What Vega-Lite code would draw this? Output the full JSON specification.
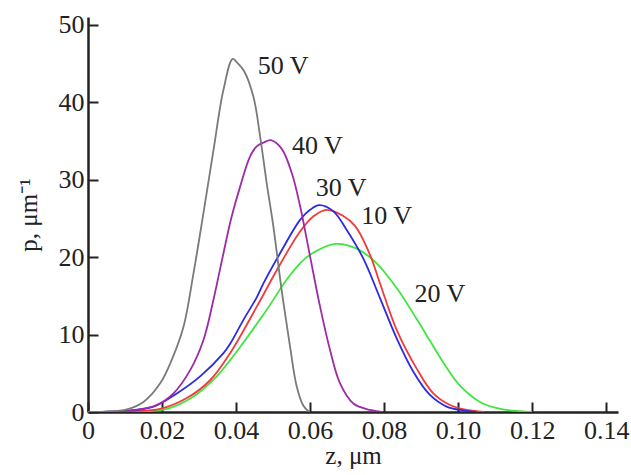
{
  "$schema": "https://vega.github.io/schema/vega-lite/v6.json",
  "width": 530,
  "height": 395,
  "autosize": {"type": "none"},
  "padding": {"left": 88, "top": 17, "right": 13, "bottom": 63},
  "background": "white",
  "config": {
    "view": {"stroke": null},
    "font": "Liberation Serif",
    "axis": {
      "labelFont": "Liberation Serif",
      "titleFont": "Liberation Serif",
      "labelFontSize": 26,
      "titleFontSize": 25,
      "labelColor": "#222",
      "titleColor": "#222",
      "titleFontWeight": "normal",
      "domainColor": "#222",
      "domainWidth": 2.5,
      "tickColor": "#222",
      "tickWidth": 2,
      "tickSize": -10,
      "grid": false
    }
  },
  "datasets": {
    "curves": [
      {"s": "20 V", "z": 0, "p": 0}, {"s": "20 V", "z": 0.012, "p": 0.05}, {"s": "20 V", "z": 0.0213, "p": 0.4}, {"s": "20 V", "z": 0.0285, "p": 2.0}, {"s": "20 V", "z": 0.0348, "p": 4.6}, {"s": "20 V", "z": 0.0384, "p": 6.7}, {"s": "20 V", "z": 0.0411, "p": 8.4}, {"s": "20 V", "z": 0.0483, "p": 13.2}, {"s": "20 V", "z": 0.0537, "p": 17.1}, {"s": "20 V", "z": 0.0573, "p": 19.2}, {"s": "20 V", "z": 0.06, "p": 20.3}, {"s": "20 V", "z": 0.0668, "p": 21.7}, {"s": "20 V", "z": 0.0726, "p": 21.1}, {"s": "20 V", "z": 0.078, "p": 19.2}, {"s": "20 V", "z": 0.0834, "p": 16.0}, {"s": "20 V", "z": 0.0888, "p": 12.0}, {"s": "20 V", "z": 0.0924, "p": 9.2}, {"s": "20 V", "z": 0.096, "p": 6.4}, {"s": "20 V", "z": 0.1005, "p": 3.4}, {"s": "20 V", "z": 0.1059, "p": 1.3}, {"s": "20 V", "z": 0.1114, "p": 0.4}, {"s": "20 V", "z": 0.1168, "p": 0.1}, {"s": "20 V", "z": 0.12, "p": 0},
      {"s": "10 V", "z": 0, "p": 0}, {"s": "10 V", "z": 0.012, "p": 0.1}, {"s": "10 V", "z": 0.0195, "p": 0.4}, {"s": "10 V", "z": 0.0267, "p": 1.8}, {"s": "10 V", "z": 0.033, "p": 4.1}, {"s": "10 V", "z": 0.0384, "p": 7.6}, {"s": "10 V", "z": 0.0456, "p": 13.6}, {"s": "10 V", "z": 0.051, "p": 18.3}, {"s": "10 V", "z": 0.0573, "p": 23.3}, {"s": "10 V", "z": 0.061, "p": 25.3}, {"s": "10 V", "z": 0.0645, "p": 26.1}, {"s": "10 V", "z": 0.069, "p": 25.3}, {"s": "10 V", "z": 0.0722, "p": 24.0}, {"s": "10 V", "z": 0.0762, "p": 20.3}, {"s": "10 V", "z": 0.0789, "p": 16.6}, {"s": "10 V", "z": 0.0834, "p": 10.6}, {"s": "10 V", "z": 0.0888, "p": 5.6}, {"s": "10 V", "z": 0.0933, "p": 2.4}, {"s": "10 V", "z": 0.0978, "p": 0.9}, {"s": "10 V", "z": 0.1024, "p": 0.26}, {"s": "10 V", "z": 0.107, "p": 0},
      {"s": "30 V", "z": 0, "p": 0}, {"s": "30 V", "z": 0.01, "p": 0.15}, {"s": "30 V", "z": 0.0177, "p": 0.7}, {"s": "30 V", "z": 0.024, "p": 2.4}, {"s": "30 V", "z": 0.0303, "p": 4.6}, {"s": "30 V", "z": 0.0366, "p": 7.6}, {"s": "30 V", "z": 0.0384, "p": 8.8}, {"s": "30 V", "z": 0.042, "p": 11.9}, {"s": "30 V", "z": 0.0456, "p": 14.8}, {"s": "30 V", "z": 0.0474, "p": 16.6}, {"s": "30 V", "z": 0.0519, "p": 20.5}, {"s": "30 V", "z": 0.0573, "p": 24.8}, {"s": "30 V", "z": 0.06, "p": 26.1}, {"s": "30 V", "z": 0.0625, "p": 26.7}, {"s": "30 V", "z": 0.0663, "p": 25.9}, {"s": "30 V", "z": 0.0699, "p": 23.5}, {"s": "30 V", "z": 0.0744, "p": 19.8}, {"s": "30 V", "z": 0.0789, "p": 14.7}, {"s": "30 V", "z": 0.0834, "p": 9.5}, {"s": "30 V", "z": 0.0879, "p": 5.2}, {"s": "30 V", "z": 0.0924, "p": 2.2}, {"s": "30 V", "z": 0.0969, "p": 0.7}, {"s": "30 V", "z": 0.1014, "p": 0.2}, {"s": "30 V", "z": 0.105, "p": 0},
      {"s": "40 V", "z": 0, "p": 0}, {"s": "40 V", "z": 0.006, "p": 0.03}, {"s": "40 V", "z": 0.0122, "p": 0.2}, {"s": "40 V", "z": 0.0186, "p": 0.9}, {"s": "40 V", "z": 0.0231, "p": 2.4}, {"s": "40 V", "z": 0.0276, "p": 5.4}, {"s": "40 V", "z": 0.0312, "p": 9.3}, {"s": "40 V", "z": 0.0339, "p": 14.5}, {"s": "40 V", "z": 0.0366, "p": 20.5}, {"s": "40 V", "z": 0.0388, "p": 25.2}, {"s": "40 V", "z": 0.0411, "p": 29.1}, {"s": "40 V", "z": 0.0438, "p": 33.0}, {"s": "40 V", "z": 0.0456, "p": 34.3}, {"s": "40 V", "z": 0.0475, "p": 34.8}, {"s": "40 V", "z": 0.0494, "p": 35.1}, {"s": "40 V", "z": 0.0523, "p": 34.0}, {"s": "40 V", "z": 0.0551, "p": 30.8}, {"s": "40 V", "z": 0.0573, "p": 26.6}, {"s": "40 V", "z": 0.06, "p": 20.1}, {"s": "40 V", "z": 0.0627, "p": 13.6}, {"s": "40 V", "z": 0.0654, "p": 8.0}, {"s": "40 V", "z": 0.0681, "p": 3.7}, {"s": "40 V", "z": 0.0717, "p": 1.1}, {"s": "40 V", "z": 0.0762, "p": 0.26}, {"s": "40 V", "z": 0.0794, "p": 0},
      {"s": "50 V", "z": 0, "p": 0}, {"s": "50 V", "z": 0.005, "p": 0.05}, {"s": "50 V", "z": 0.0105, "p": 0.35}, {"s": "50 V", "z": 0.015, "p": 1.3}, {"s": "50 V", "z": 0.0195, "p": 3.7}, {"s": "50 V", "z": 0.0226, "p": 6.7}, {"s": "50 V", "z": 0.0258, "p": 11.0}, {"s": "50 V", "z": 0.0285, "p": 17.9}, {"s": "50 V", "z": 0.0312, "p": 25.7}, {"s": "50 V", "z": 0.0339, "p": 33.8}, {"s": "50 V", "z": 0.0366, "p": 41.6}, {"s": "50 V", "z": 0.0391, "p": 45.6}, {"s": "50 V", "z": 0.0405, "p": 45.0}, {"s": "50 V", "z": 0.0422, "p": 44.0}, {"s": "50 V", "z": 0.0447, "p": 40.7}, {"s": "50 V", "z": 0.0465, "p": 35.6}, {"s": "50 V", "z": 0.0483, "p": 29.5}, {"s": "50 V", "z": 0.0501, "p": 23.9}, {"s": "50 V", "z": 0.0523, "p": 15.8}, {"s": "50 V", "z": 0.0546, "p": 8.4}, {"s": "50 V", "z": 0.0564, "p": 3.3}, {"s": "50 V", "z": 0.0582, "p": 0.8}, {"s": "50 V", "z": 0.0598, "p": 0}
    ],
    "labels": [
      {"s": "50 V", "z": 0.0527, "p": 44.7},
      {"s": "40 V", "z": 0.062, "p": 34.3},
      {"s": "30 V", "z": 0.0684, "p": 28.9},
      {"s": "10 V", "z": 0.0807, "p": 25.3},
      {"s": "20 V", "z": 0.0951, "p": 15.2}
    ]
  },
  "layer": [
    {
      "data": {"name": "curves"},
      "mark": {"type": "line", "interpolate": "catmull-rom", "strokeWidth": 1.8, "clip": true},
      "encoding": {
        "x": {
          "field": "z", "type": "quantitative",
          "scale": {"domain": [0, 0.1432], "nice": false, "zero": false},
          "axis": {
            "title": "z, μm",
            "values": [0, 0.01, 0.02, 0.03, 0.04, 0.05, 0.06, 0.07, 0.08, 0.09, 0.1, 0.11, 0.12, 0.13, 0.14],
            "labelExpr": "datum.value == 0 ? '0' : (round(datum.value * 100) % 2 == 0 ? format(datum.value, '.2f') : '')",
            "labelPadding": 15,
            "titlePadding": 0,
            "labelFlush": false
          }
        },
        "y": {
          "field": "p", "type": "quantitative",
          "scale": {"domain": [0, 51], "nice": false},
          "axis": {
            "title": "p, μm⁻¹",
            "values": [0, 5, 10, 15, 20, 25, 30, 35, 40, 45, 50],
            "labelExpr": "datum.value % 10 == 0 ? datum.label : ''",
            "labelPadding": 14,
            "titlePadding": 17,
            "labelFlush": false
          }
        },
        "color": {
          "field": "s", "type": "nominal",
          "scale": {"domain": ["10 V", "20 V", "30 V", "40 V", "50 V"], "range": ["#f23a3a", "#3fe63f", "#2b2be0", "#9e2aa8", "#7a7a7a"]},
          "legend": null
        },
        "detail": {"field": "s"}
      }
    },
    {
      "data": {"name": "labels"},
      "mark": {"type": "text", "font": "Liberation Serif", "fontSize": 26, "color": "#222", "align": "center", "baseline": "middle"},
      "encoding": {
        "x": {"field": "z", "type": "quantitative"},
        "y": {"field": "p", "type": "quantitative"},
        "text": {"field": "s"}
      }
    }
  ]
}
